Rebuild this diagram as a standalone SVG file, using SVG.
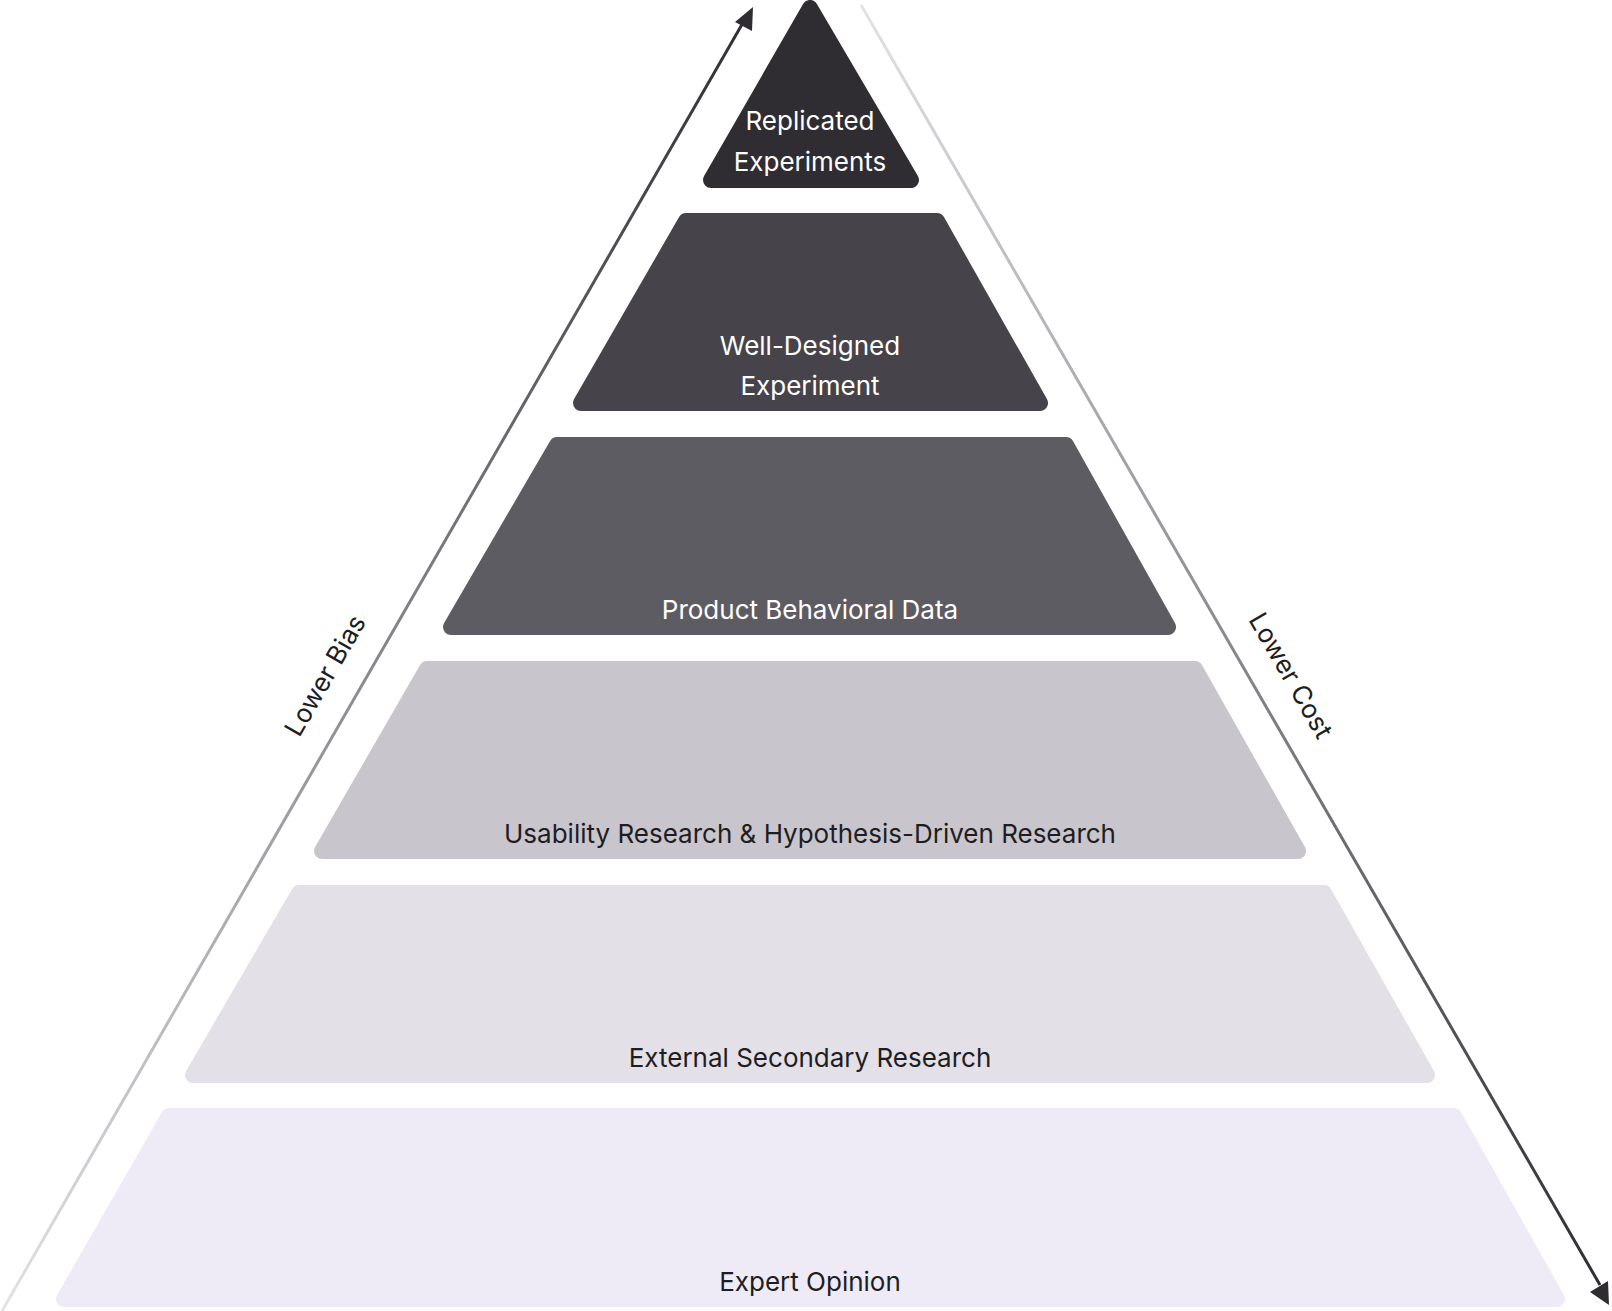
<svg xmlns="http://www.w3.org/2000/svg" width="1612" height="1311" viewBox="0 0 1612 1311">
<style>
.t{font-family:Inter,"Open Sans",sans-serif;font-size:26px;text-anchor:middle}
.w{fill:#ffffff}.k{fill:#1e1d22}
.l{stroke-width:16;stroke-linejoin:round}
</style>
<defs>
<linearGradient id="gl" x1="0" y1="1" x2="0" y2="0"><stop offset="0" stop-color="#e4e1e8"/><stop offset="1" stop-color="#2f2d32"/></linearGradient>
<linearGradient id="gr" x1="0" y1="0" x2="0" y2="1"><stop offset="0" stop-color="#e4e1e8"/><stop offset="1" stop-color="#2f2d32"/></linearGradient>
<marker id="ah" viewBox="0 0 10 10" refX="9" refY="5" markerWidth="7" markerHeight="7" orient="auto" markerUnits="userSpaceOnUse"><path d="M0,0L10,5L0,10z" fill="#2f2d32"/></marker>
</defs>
<rect width="1612" height="1311" fill="#fff"/>
<g id="connectors">
<line x1="2" y1="1311" x2="748" y2="14" stroke="url(#gl)" stroke-width="3"/>
<path d="M735,22L753,7L752,31z" fill="#2f2d32"/>
<line x1="861" y1="5" x2="1600" y2="1285" stroke="url(#gr)" stroke-width="3"/>
<path d="M1590,1292L1609,1305L1608,1281z" fill="#2f2d32"/>
</g>
<g id="layer1"><polygon class="l" points="810,8 911,180 711,180" fill="#2f2d32" stroke="#2f2d32"/>
<text class="t w" x="810" y="130">Replicated</text><text class="t w" x="810" y="171">Experiments</text></g>
<g id="layer2"><polygon class="l" points="686,221 937,221 1040,403 581,403" fill="#46444a" stroke="#46444a"/>
<text class="t w" x="810" y="355">Well-Designed</text><text class="t w" x="810" y="395">Experiment</text></g>
<g id="layer3"><polygon class="l" points="557,445 1066,445 1168,627 451,627" fill="#5e5c63" stroke="#5e5c63"/>
<text class="t w" x="810" y="619">Product Behavioral Data</text></g>
<g id="layer4"><polygon class="l" points="427,669 1195,669 1298,851 322,851" fill="#c9c5cc" stroke="#c9c5cc"/>
<text class="t k" x="810" y="843">Usability Research &amp; Hypothesis-Driven Research</text></g>
<g id="layer5"><polygon class="l" points="299,893 1324,893 1427,1075 193,1075" fill="#e3e0e8" stroke="#e3e0e8"/>
<text class="t k" x="810" y="1067">External Secondary Research</text></g>
<g id="layer6"><polygon class="l" points="169,1116 1454,1116 1557,1299 64,1299" fill="#efebf6" stroke="#efebf6"/>
<text class="t k" x="810" y="1291">Expert Opinion</text></g>
<g id="labels">
<text class="t k" transform="translate(333,680) rotate(-60)">Lower Bias</text>
<text class="t k" transform="translate(1283,680) rotate(60)">Lower Cost</text>
</g>
</svg>
